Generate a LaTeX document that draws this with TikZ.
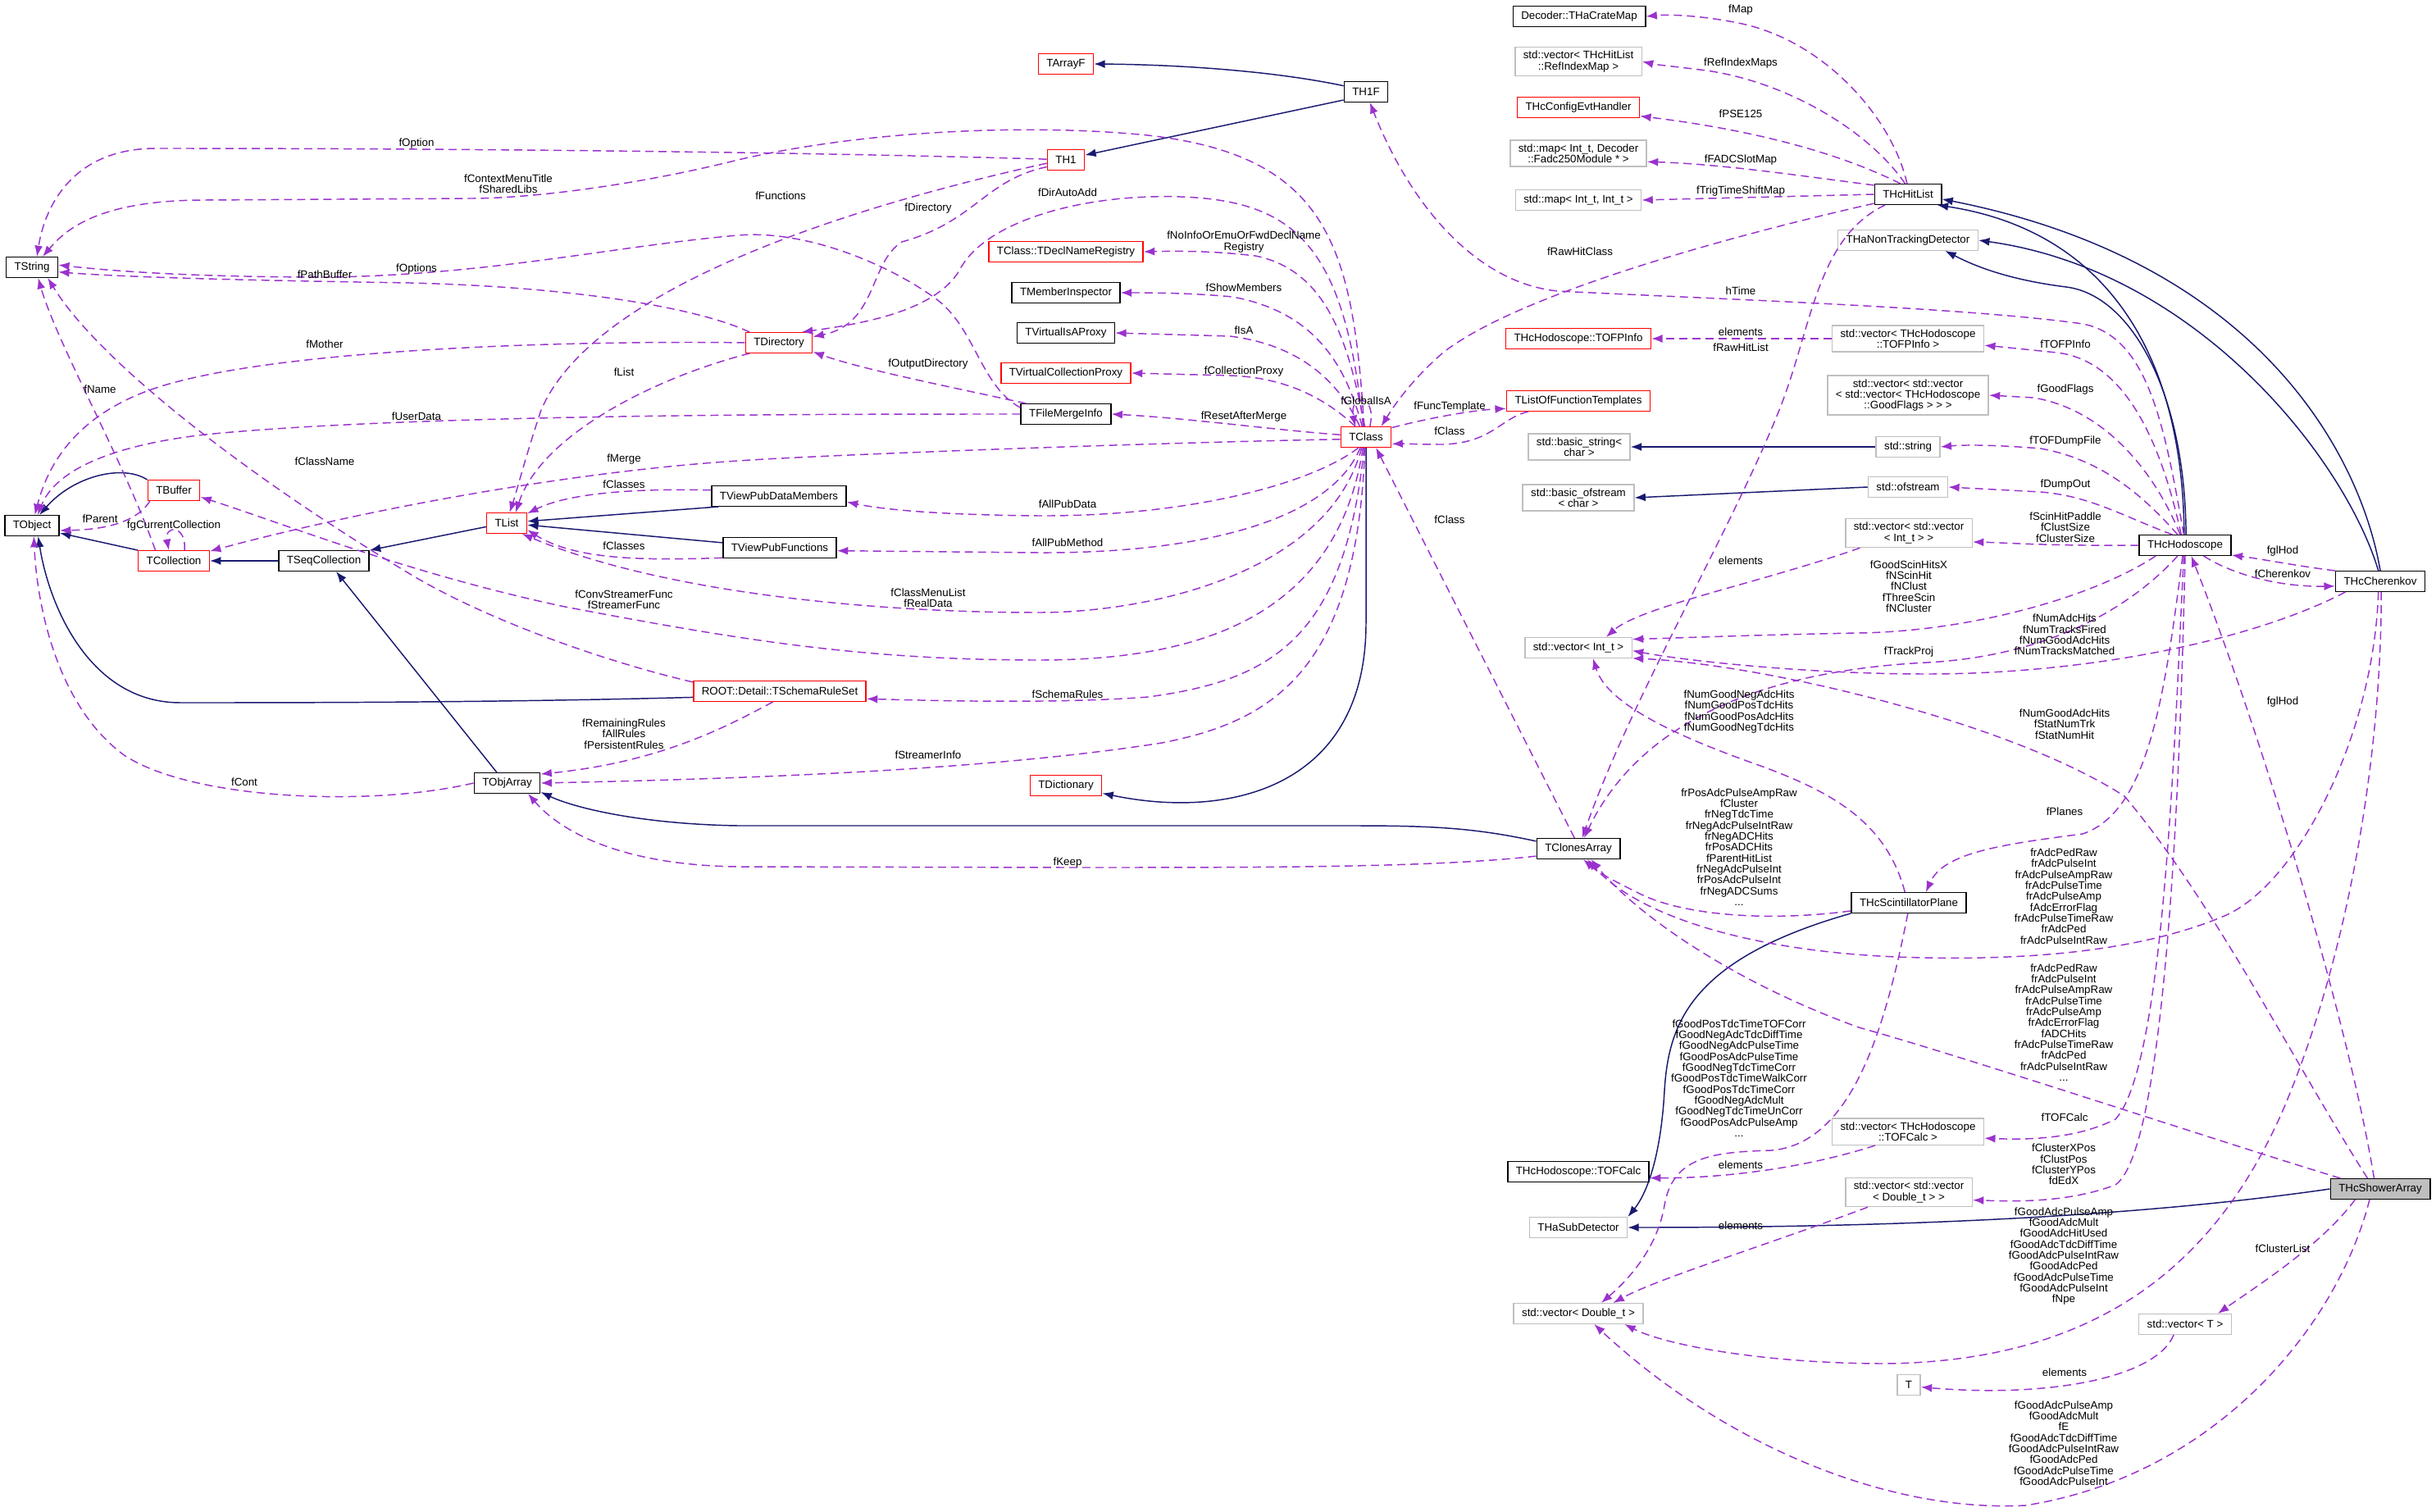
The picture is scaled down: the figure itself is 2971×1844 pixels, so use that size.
\documentclass[tikz,border=0pt]{standalone}
\usepackage{fontspec}
\setmainfont{Liberation Sans}
\usepackage{tikz}
\usetikzlibrary{arrows.meta}

\definecolor{inhblue}{HTML}{191970}
\definecolor{usepurple}{HTML}{9A32CD}
\definecolor{extgray}{HTML}{BFBFBF}
\newcommand{\dxfont}{\fontsize{10}{10}\selectfont}

\tikzset{
  cls/.style={draw=black, fill=white, line width=1.1pt, font=\dxfont, align=center,
    inner xsep=7.5pt, inner ysep=3.5pt, minimum height=18.4pt},
  rcls/.style={cls, draw=red},
  ecls/.style={cls, draw=extgray},
  inherit/.style={draw=inhblue, line width=1.1pt, -{Latex[length=10pt,width=7.5pt]}},
  usage/.style={draw=usepurple, line width=1.1pt, dash pattern=on 7.5pt off 4.5pt,
    -{Latex[length=10pt,width=7.5pt]}},
  lbl/.style={font=\dxfont, align=center, inner sep=0pt}
}

\begin{document}
\begin{tikzpicture}[x=0.75pt,y=-0.75pt]
\useasboundingbox (0,0) rectangle (2971,1844);
% classes
\node[cls]  (tstr)      at (39,326)    {TString};
\node[cls]  (tobj)      at (39,641)    {TObject};
\node[rcls] (tbuf)      at (212,598)   {TBuffer};
\node[rcls] (tcoll)     at (212,684)   {TCollection};
\node[cls]  (tseq)      at (395,684)   {TSeqCollection};
\node[rcls] (tlist)     at (618,638)   {TList};
\node[cls]  (tobjarr)   at (618.5,955) {TObjArray};
\node[rcls] (tdir)      at (950,418)   {TDirectory};
\node[cls]  (tvpdm)     at (950,605)   {TViewPubDataMembers};
\node[cls]  (tvpf)      at (951,668)   {TViewPubFunctions};
\node[rcls] (rules)     at (951,843)   {ROOT::Detail::TSchemaRuleSet};
\node[rcls] (tarrf)     at (1300,78)   {TArrayF};
\node[rcls] (th1)       at (1300,195)  {TH1};
\node[rcls] (declreg)   at (1300,307)  {TClass::TDeclNameRegistry};
\node[cls]  (minsp)     at (1300,357)  {TMemberInspector};
\node[cls]  (isaproxy)  at (1300,406)  {TVirtualIsAProxy};
\node[rcls] (collproxy) at (1300,455)  {TVirtualCollectionProxy};
\node[cls]  (merge)     at (1300,505)  {TFileMergeInfo};
\node[rcls] (tdict)     at (1300,958)  {TDictionary};
\node[cls]  (th1f)      at (1666,112)  {TH1F};
\node[rcls] (tclass)    at (1666,533)  {TClass};
\node[cls]  (cratemap)  at (1926,20)   {Decoder::THaCrateMap};
\node[ecls] (refidx)    at (1925,75)   {std::vector< THcHitList\\::RefIndexMap >};
\node[rcls] (cfgevt)    at (1925,131)  {THcConfigEvtHandler};
\node[ecls] (fadcmap)   at (1925,187)  {std::map< Int\_t, Decoder\\::Fadc250Module * >};
\node[ecls] (intmap)    at (1925,244)  {std::map< Int\_t, Int\_t >};
\node[rcls] (tofpinfo)  at (1925,413)  {THcHodoscope::TOFPInfo};
\node[rcls] (functmpl)  at (1925,489)  {TListOfFunctionTemplates};
\node[ecls] (bstring)   at (1926,545)  {std::basic\_string<\\char >};
\node[ecls] (bofstream) at (1925,607)  {std::basic\_ofstream\\< char >};
\node[ecls] (vint)      at (1925,790)  {std::vector< Int\_t >};
\node[cls]  (clones)    at (1925,1035) {TClonesArray};
\node[cls]  (tofcalc)   at (1925,1429) {THcHodoscope::TOFCalc};
\node[ecls] (subdet)    at (1925,1497) {THaSubDetector};
\node[ecls] (vdouble)   at (1925,1602) {std::vector< Double\_t >};
\node[cls]  (hitlist)   at (2327,237)  {THcHitList};
\node[ecls] (nontrack)  at (2327,293)  {THaNonTrackingDetector};
\node[ecls] (vtofpinfo) at (2327,413)  {std::vector< THcHodoscope\\::TOFPInfo >};
\node[ecls] (vflags)    at (2327,482)  {std::vector< std::vector\\< std::vector< THcHodoscope\\::GoodFlags > > >};
\node[ecls] (sstring)   at (2327,545)  {std::string};
\node[ecls] (sofstream) at (2327,594)  {std::ofstream};
\node[ecls] (vvint)     at (2328,650)  {std::vector< std::vector\\< Int\_t > >};
\node[cls]  (plane)     at (2328,1101) {THcScintillatorPlane};
\node[ecls] (vtofcalc)  at (2327,1380) {std::vector< THcHodoscope\\::TOFCalc >};
\node[ecls] (vvdouble)  at (2328,1454) {std::vector< std::vector\\< Double\_t > >};
\node[ecls] (tee)       at (2328,1689) {T};
\node[cls]  (hodo)      at (2665,665)  {THcHodoscope};
\node[ecls] (vt)        at (2665,1615) {std::vector< T >};
\node[cls]  (cher)      at (2903,709)  {THcCherenkov};
\node[cls, fill=extgray] (shower) at (2903,1450) {THcShowerArray};

% inheritance
\draw[inherit] (th1f.165) .. controls (1560,88) and (1450,79) .. (tarrf.east);
\draw[inherit] (th1f.200) -- (th1.14);
\draw[inherit] (tbuf.north west) .. controls (150,566) and (90,580) .. (tobj.55);
\draw[inherit] (tcoll.north west) -- (tobj.-15);
\draw[inherit] (tseq.west) -- (tcoll.east);
\draw[inherit] (tlist.190) -- (tseq.north east);
\draw[inherit] (tvpdm.190) -- (tlist.5);
\draw[inherit] (tvpf.175) -- (tlist.-5);
\draw[inherit] (tobjarr.134) -- (tseq.-41);
\draw[inherit] (rules.-176) .. controls (600,857) and (350,857) .. (220,857) .. controls (110,857) and (60,740) .. (tobj.-60);
\draw[inherit] (clones.170) .. controls (1800,1010) and (1750,1007) .. (1650,1007) -- (900,1007) .. controls (780,1005) and (700,985) .. (tobjarr.-15);
\draw[inherit] (tclass.south) -- (1666,760) .. controls (1666,960) and (1500,1000) .. (tdict.-12);
\draw[inherit] (sstring.west) -- (bstring.east);
\draw[inherit] (sofstream.west) -- (bofstream.east);
\draw[inherit] (hodo.95) .. controls (2662,420) and (2560,280) .. (hitlist.-20);
\draw[inherit] (hodo.85) .. controls (2665,480) and (2600,360) .. (2520,350) .. controls (2440,340) and (2400,320) .. (nontrack.-16);
\draw[inherit] (cher.north) .. controls (2880,560) and (2760,320) .. (hitlist.-8);
\draw[inherit] (cher.100) .. controls (2860,560) and (2680,330) .. (nontrack.east);
\draw[inherit] (plane.south west) .. controls (2060,1170) and (2035,1250) .. (2030,1330) .. controls (2025,1420) and (2005,1460) .. (subdet.north east);
\draw[inherit] (shower.west) .. controls (2600,1485) and (2300,1497) .. (subdet.east);

% usage, left part
\draw[usage] (th1.178) .. controls (1000,186) and (600,181) .. (190,181) .. controls (90,181) and (55,250) .. (tstr.65);
\draw[usage] (tclass.100) .. controls (1650,300) and (1620,190) .. (1400,165) .. controls (1250,150) and (1050,160) .. (900,195) .. controls (780,225) and (650,242) .. (574,242) -- (250,244) .. controls (120,244) and (80,280) .. (tstr.45);
\draw[usage] (merge.172) .. controls (1195,470) and (1190,400) .. (1141,364) .. controls (1080,320) and (980,280) .. (900,287) .. controls (750,300) and (600,335) .. (402,338) .. controls (250,338) and (150,332) .. (tstr.5);
\draw[usage] (tdir.160) .. controls (850,375) and (700,350) .. (500,345) .. controls (300,342) and (150,338) .. (tstr.-10);
\draw[usage] (tdir.west) .. controls (700,415) and (350,425) .. (200,470) .. controls (100,500) and (60,560) .. (tobj.75);
\draw[usage] (merge.west) .. controls (1000,505) and (500,505) .. (250,530) .. controls (120,545) and (65,580) .. (tobj.62);
\draw[usage] (tdir.200) .. controls (800,460) and (660,530) .. (tlist.50);
\draw[usage] (th1.190) .. controls (1000,260) and (720,360) .. (660,500) .. controls (640,560) and (630,600) .. (tlist.75);
\draw[usage] (th1.200) .. controls (1200,220) and (1190,270) .. (1100,295) .. controls (1060,320) and (1070,395) .. (tdir.10);
\draw[usage] (tclass.105) .. controls (1640,300) and (1580,245) .. (1440,240) .. controls (1320,236) and (1200,270) .. (1170,330) .. controls (1140,380) and (1050,395) .. (tdir.25);
\draw[usage] (merge.165) .. controls (1150,470) and (1050,450) .. (tdir.-15);
\draw[usage] (tclass.97) .. controls (1645,420) and (1620,330) .. (1531,312) .. controls (1480,306) and (1440,306) .. (declreg.east);
\draw[usage] (tclass.110) .. controls (1640,440) and (1600,380) .. (1503,362) .. controls (1450,357) and (1400,357) .. (minsp.east);
\draw[usage] (tclass.120) .. controls (1630,460) and (1580,420) .. (1500,410) -- (isaproxy.east);
\draw[usage] (tclass.135) .. controls (1610,480) and (1560,460) .. (1500,458) -- (collproxy.east);
\draw[usage] (tclass.175) .. controls (1560,525) and (1450,510) .. (merge.east);
\draw[usage] (tclass.70) .. controls (1680,480) and (1645,480) .. (tclass.135);
\draw[usage] (tclass.20) .. controls (1750,508) and (1800,500) .. (functmpl.186);
\draw[usage] (functmpl.-168) .. controls (1830,510) and (1820,540) .. (1760,542) .. controls (1730,542) and (1710,541) .. (tclass.-15);
\draw[usage] (tclass.185) .. controls (1400,540) and (1000,555) .. (900,562) .. controls (700,575) and (450,620) .. (tcoll.15);
\draw[usage] (tclass.-125) .. controls (1600,590) and (1450,630) .. (1267,629) .. controls (1150,628) and (1080,622) .. (tvpdm.-5);
\draw[usage] (tclass.-118) .. controls (1620,640) and (1450,675) .. (1267,674) -- (tvpf.-3);
\draw[usage] (tclass.-112) .. controls (1620,700) and (1400,747) .. (1267,747) .. controls (1050,747) and (800,720) .. (tlist.-35);
\draw[usage] (tclass.-106) .. controls (1630,760) and (1450,805) .. (1267,805) .. controls (1050,805) and (900,780) .. (689,740) .. controls (500,700) and (350,640) .. (tbuf.-14);
\draw[usage] (tclass.-100) .. controls (1640,780) and (1550,830) .. (1400,850) .. controls (1300,858) and (1150,855) .. (rules.-5);
\draw[usage] (tclass.-96) .. controls (1655,820) and (1550,880) .. (1417,906) .. controls (1200,940) and (900,950) .. (tobjarr.east);
\draw[usage] (tvpdm.175) .. controls (800,596) and (700,598) .. (tlist.25);
\draw[usage] (tvpf.190) .. controls (780,684) and (700,682) .. (tlist.-18);
\draw[usage] (rules.-123) .. controls (880,890) and (800,930) .. (tobjarr.15);
\draw[usage] (rules.174) .. controls (750,810) and (600,760) .. (500,700) .. controls (300,580) and (120,440) .. (tstr.-34);
\draw[usage] (tcoll.150) .. controls (150,560) and (70,420) .. (tstr.-60);
\draw[usage] (tcoll.45) .. controls (228,640) and (200,640) .. (tcoll.115);
\draw[usage] (tbuf.-156) .. controls (165,640) and (120,646) .. (tobj.-10);
\draw[usage] (tobjarr.west) .. controls (450,985) and (230,975) .. (150,920) .. controls (70,860) and (45,740) .. (tobj.-80);
\draw[usage] (clones.110) -- (tclass.-47);
\draw[usage] (clones.190) .. controls (1750,1058) and (1550,1058) .. (1302,1058) -- (900,1057) .. controls (750,1055) and (680,1010) .. (tobjarr.-27);

% usage, right part
\draw[usage] (hitlist.195) .. controls (2100,290) and (1850,360) .. (1760,430) .. controls (1720,465) and (1700,495) .. (tclass.35);
\draw[usage] (hodo.97) .. controls (2640,520) and (2620,410) .. (2540,395) .. controls (2400,375) and (2100,365) .. (1900,355) .. controls (1800,345) and (1720,250) .. (th1f.-70);
\draw[usage] (hitlist.95) .. controls (2310,150) and (2230,50) .. (2120,28) .. controls (2080,20) and (2040,17) .. (cratemap.east);
\draw[usage] (hitlist.105) .. controls (2280,160) and (2180,100) .. (2081,86) .. controls (2050,82) and (2020,79) .. (refidx.east);
\draw[usage] (hitlist.125) .. controls (2250,190) and (2150,160) .. (cfgevt.-8);
\draw[usage] (hitlist.165) .. controls (2200,215) and (2100,200) .. (fadcmap.-7);
\draw[usage] (hitlist.west) -- (intmap.east);
\draw[usage] (hitlist.205) .. controls (2215,290) and (2210,400) .. (2170,500) .. controls (2110,650) and (1990,850) .. (clones.70);
\draw[usage] (vtofpinfo.west) -- (tofpinfo.east);
\draw[usage] (hodo.110) .. controls (2640,560) and (2600,440) .. (2508,430) .. controls (2470,426) and (2440,423) .. (vtofpinfo.-5);
\draw[usage] (hodo.115) .. controls (2630,580) and (2570,500) .. (2480,485) -- (vflags.east);
\draw[usage] (hodo.125) .. controls (2610,600) and (2560,560) .. (2489,547) .. controls (2440,543) and (2400,542) .. (sstring.east);
\draw[usage] (hodo.140) .. controls (2590,630) and (2550,605) .. (2489,600) -- (sofstream.east);
\draw[usage] (hodo.west) .. controls (2500,666) and (2450,662) .. (vvint.-8);
\draw[usage] (vvint.-163) .. controls (2150,710) and (2000,740) .. (vint.21);
\draw[usage] (hodo.-160) .. controls (2550,730) and (2400,770) .. (2267,772) .. controls (2150,774) and (2050,778) .. (vint.9);
\draw[usage] (hodo.-125) .. controls (2600,740) and (2500,800) .. (2350,808) .. controls (2150,818) and (2000,880) .. (clones.62);
\draw[usage] (cher.-163) .. controls (2750,780) and (2550,822) .. (2350,822) .. controls (2200,822) and (2050,805) .. (vint.-3);
\draw[usage] (shower.140) .. controls (2800,1300) and (2700,1100) .. (2591,971) .. controls (2450,880) and (2150,810) .. (vint.-11);
\draw[usage] (plane.110) .. controls (2300,1000) and (2230,965) .. (2150,935) .. controls (2050,900) and (1960,860) .. (vint.-36);
\draw[usage] (hodo.-103) .. controls (2640,850) and (2620,990) .. (2540,1017) .. controls (2440,1030) and (2370,1040) .. (plane.32);
\draw[usage] (hodo.-97) .. controls (2652,900) and (2640,1300) .. (2580,1365) .. controls (2530,1390) and (2470,1390) .. (vtofcalc.-5);
\draw[usage] (hodo.-90) .. controls (2660,900) and (2645,1400) .. (2580,1445) .. controls (2520,1468) and (2450,1465) .. (vvdouble.-7);
\draw[usage] (shower.120) .. controls (2865,1250) and (2760,900) .. (hodo.-60);
\draw[usage] (cher.north west) .. controls (2800,690) and (2760,682) .. (hodo.-12);
\draw[usage] (hodo.-30) .. controls (2730,705) and (2790,716) .. (cher.-174);
\draw[usage] (cher.-100) .. controls (2895,900) and (2800,1080) .. (2713,1117) .. controls (2600,1165) and (2450,1170) .. (2348,1168) .. controls (2150,1165) and (2000,1120) .. (clones.-50);
\draw[usage] (cher.-85) .. controls (2905,900) and (2870,1150) .. (2786,1350) .. controls (2700,1550) and (2550,1660) .. (2300,1663) .. controls (2150,1663) and (2030,1640) .. (vdouble.-13);
\draw[usage] (shower.165) .. controls (2700,1390) and (2400,1290) .. (2267,1253) .. controls (2120,1200) and (2000,1120) .. (clones.-40);
\draw[usage] (plane.188) .. controls (2150,1125) and (2050,1115) .. (2000,1090) .. controls (1970,1075) and (1950,1065) .. (clones.-65);
\draw[usage] (plane.-95) .. controls (2300,1250) and (2260,1395) .. (2160,1403) .. controls (2090,1405) and (2040,1410) .. (2030,1470) .. controls (2020,1530) and (1975,1570) .. (vdouble.25);
\draw[usage] (vtofcalc.-157) .. controls (2200,1425) and (2100,1437) .. (tofcalc.-5);
\draw[usage] (vvdouble.-160) .. controls (2150,1520) and (2020,1560) .. (vdouble.17);
\draw[usage] (shower.-135) .. controls (2850,1620) and (2700,1800) .. (2470,1836) .. controls (2300,1845) and (2100,1760) .. (vdouble.-34);
\draw[usage] (shower.-157) .. controls (2830,1520) and (2750,1570) .. (vt.18);
\draw[usage] (vt.-137) .. controls (2630,1680) and (2500,1705) .. (tee.-10);

% labels
\node[lbl] (loption)   at (508,175)   {fOption};
\node[lbl] (lctxmenu)  at (620,224)   {fContextMenuTitle\\fSharedLibs};
\node[lbl] (loptions)  at (508,328)   {fOptions};
\node[lbl] (lpathbuf)  at (396,335)   {fPathBuffer};
\node[lbl] (lmother)   at (396,420)   {fMother};
\node[lbl] (llist)     at (761,454)   {fList};
\node[lbl] (lfuncs)    at (952,239)   {fFunctions};
\node[lbl] (ldir)      at (1132,254)  {fDirectory};
\node[lbl] (ldirauto)  at (1302,235)  {fDirAutoAdd};
\node[lbl] (loutdir)   at (1132,444)  {fOutputDirectory};
\node[lbl] (luserdata) at (508,508)   {fUserData};
\node[lbl] (lmerge)    at (761,560)   {fMerge};
\node[lbl] (lclassesa) at (761,591)   {fClasses};
\node[lbl] (lclassesb) at (761,666)   {fClasses};
\node[lbl] (lname)     at (122,475)   {fName};
\node[lbl] (lclsname)  at (396,563)   {fClassName};
\node[lbl] (lparent)   at (122,633)   {fParent};
\node[lbl] (lcurcoll)  at (212,641)   {fgCurrentCollection};
\node[lbl] (lconv)     at (761,731)   {fConvStreamerFunc\\fStreamerFunc};
\node[lbl] (lmenulist) at (1132,729)  {fClassMenuList\\fRealData};
\node[lbl] (lrules)    at (761,895)   {fRemainingRules\\fAllRules\\fPersistentRules};
\node[lbl] (lcont)     at (298,954)   {fCont};
\node[lbl] (lsinfo)    at (1132,921)  {fStreamerInfo};
\node[lbl] (lschema)   at (1302,847)  {fSchemaRules};
\node[lbl] (lpubdata)  at (1302,615)  {fAllPubData};
\node[lbl] (lpubmeth)  at (1302,662)  {fAllPubMethod};
\node[lbl] (lkeep)     at (1302,1052) {fKeep};
\node[lbl] (ldeclreg)  at (1517,295)  {fNoInfoOrEmuOrFwdDeclName\\Registry};
\node[lbl] (lshowmem)  at (1517,351)  {fShowMembers};
\node[lbl] (lisa)      at (1517,403)  {fIsA};
\node[lbl] (lcollprx)  at (1517,453)  {fCollectionProxy};
\node[lbl] (lreset)    at (1517,508)  {fResetAfterMerge};
\node[lbl] (lglobisa)  at (1666,489)  {fGlobalIsA};
\node[lbl] (lfunctmp)  at (1768,496)  {fFuncTemplate};
\node[lbl] (lclassa)   at (1768,526)  {fClass};
\node[lbl] (lclassb)   at (1768,634)  {fClass};
\node[lbl] (lrawcls)   at (1927,307)  {fRawHitClass};
\node[lbl] (lhtime)    at (2123,355)  {hTime};
\node[lbl] (lmap)      at (2123,12)   {fMap};
\node[lbl] (lrefidx)   at (2123,77)   {fRefIndexMaps};
\node[lbl] (lpse)      at (2123,139)  {fPSE125};
\node[lbl] (lfadc)     at (2123,195)  {fFADCSlotMap};
\node[lbl] (ltrig)     at (2123,233)  {fTrigTimeShiftMap};
\node[lbl] (lelema)    at (2123,405)  {elements};
\node[lbl] (lrawlist)  at (2123,424)  {fRawHitList};
\node[lbl] (ltofp)     at (2519,420)  {fTOFPInfo};
\node[lbl] (lflags)    at (2519,475)  {fGoodFlags};
\node[lbl] (ldumpfile) at (2519,538)  {fTOFDumpFile};
\node[lbl] (ldumpout)  at (2519,591)  {fDumpOut};
\node[lbl] (lpaddle)   at (2519,643)  {fScinHitPaddle\\fClustSize\\fClusterSize};
\node[lbl] (lelemb)    at (2123,684)  {elements};
\node[lbl] (lscinhits) at (2328,715)  {fGoodScinHitsX\\fNScinHit\\fNClust\\fThreeScin\\fNCluster};
\node[lbl] (lglhoda)   at (2784,672)  {fglHod};
\node[lbl] (lcheren)   at (2784,700)  {fCherenkov};
\node[lbl] (lnumadc)   at (2518,774)  {fNumAdcHits\\fNumTracksFired\\fNumGoodAdcHits\\fNumTracksMatched};
\node[lbl] (ltrkproj)  at (2328,795)  {fTrackProj};
\node[lbl] (lnumgood)  at (2121,868)  {fNumGoodNegAdcHits\\fNumGoodPosTdcHits\\fNumGoodPosAdcHits\\fNumGoodNegTdcHits};
\node[lbl] (lstatnum)  at (2518,883)  {fNumGoodAdcHits\\fStatNumTrk\\fStatNumHit};
\node[lbl] (lglhodb)   at (2784,856)  {fglHod};
\node[lbl] (lplanes)   at (2518,990)  {fPlanes};
\node[lbl] (lplanearr) at (2121,1033) {frPosAdcPulseAmpRaw\\fCluster\\frNegTdcTime\\frNegAdcPulseIntRaw\\frNegADCHits\\frPosADCHits\\fParentHitList\\frNegAdcPulseInt\\frPosAdcPulseInt\\frNegADCSums\\...};
\node[lbl] (lcherarr)  at (2517,1093) {frAdcPedRaw\\frAdcPulseInt\\frAdcPulseAmpRaw\\frAdcPulseTime\\frAdcPulseAmp\\fAdcErrorFlag\\frAdcPulseTimeRaw\\frAdcPed\\frAdcPulseIntRaw};
\node[lbl] (lshowarr)  at (2517,1247) {frAdcPedRaw\\frAdcPulseInt\\frAdcPulseAmpRaw\\frAdcPulseTime\\frAdcPulseAmp\\frAdcErrorFlag\\fADCHits\\frAdcPulseTimeRaw\\frAdcPed\\frAdcPulseIntRaw\\...};
\node[lbl] (lplanedbl) at (2121,1315) {fGoodPosTdcTimeTOFCorr\\fGoodNegAdcTdcDiffTime\\fGoodNegAdcPulseTime\\fGoodPosAdcPulseTime\\fGoodNegTdcTimeCorr\\fGoodPosTdcTimeWalkCorr\\fGoodPosTdcTimeCorr\\fGoodNegAdcMult\\fGoodNegTdcTimeUnCorr\\fGoodPosAdcPulseAmp\\...};
\node[lbl] (ltofcalc)  at (2518,1363) {fTOFCalc};
\node[lbl] (lclustpos) at (2517,1420) {fClusterXPos\\fClustPos\\fClusterYPos\\fdEdX};
\node[lbl] (lelemc)    at (2123,1421) {elements};
\node[lbl] (lelemd)    at (2123,1495) {elements};
\node[lbl] (lcherdbl)  at (2517,1532) {fGoodAdcPulseAmp\\fGoodAdcMult\\fGoodAdcHitUsed\\fGoodAdcTdcDiffTime\\fGoodAdcPulseIntRaw\\fGoodAdcPed\\fGoodAdcPulseTime\\fGoodAdcPulseInt\\fNpe};
\node[lbl] (lclustlst) at (2784,1523) {fClusterList};
\node[lbl] (lereme)    at (2518,1674) {elements};
\node[lbl] (lshowdbl)  at (2517,1760) {fGoodAdcPulseAmp\\fGoodAdcMult\\fE\\fGoodAdcTdcDiffTime\\fGoodAdcPulseIntRaw\\fGoodAdcPed\\fGoodAdcPulseTime\\fGoodAdcPulseInt};
\end{tikzpicture}
\end{document}
